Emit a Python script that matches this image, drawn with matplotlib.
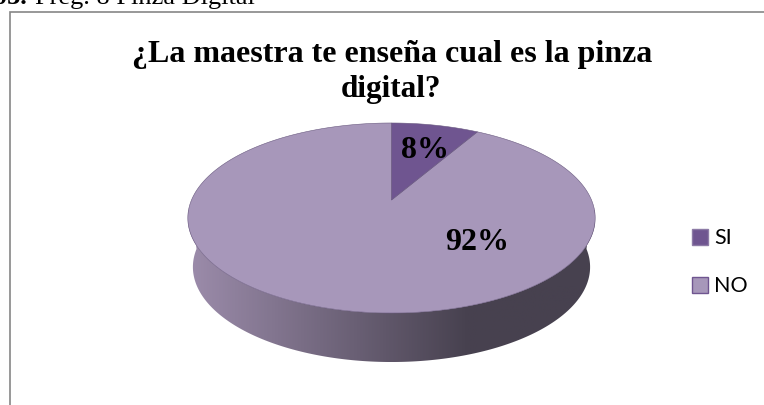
import numpy as np
from matplotlib import pyplot as plt
from matplotlib.colors import LinearSegmentedColormap
from matplotlib.patches import Patch, Polygon

categories = ['SI', 'NO']
values = [8.33, 91.67]
title_lines = ['¿La maestra te enseña cual es la pinza', 'digital?']
caption = 'Preg. 8 Pinza Digital'
caption_num = '03.'

COL_SI = '#6F5590'
COL_NO = '#A797BA'
SERIF = 'Liberation Serif'


def project(theta, x0=391.5, y0=200.0, d=200.0):
    # circle -> screen, with the perspective the 3d pie has. theta clockwise from top
    u, v = np.sin(theta), np.cos(theta)
    den = 0.1895 * v + 1
    return x0 + d * u / den, y0 - 91.6 * v / den


fig = plt.figure(figsize=(7.64, 4.05), dpi=100)
ax = fig.add_axes([0, 0, 1, 1])
ax.set_xlim(0, 764)
ax.set_ylim(405, 0)
ax.axis('off')

# chart frame, runs off the right and bottom of the crop
ax.plot([10, 10, 764], [405, 12, 12], color='#868686', lw=1.2, solid_joinstyle='miter')

# side of the disc, the gradient clipped to the band between top and bottom rims
th = np.linspace(np.pi / 2, 3 * np.pi / 2, 200)
tx, ty = project(th)
bx, by = project(th, y0=249.0, d=195.0)
band = Polygon(np.r_[np.c_[tx, ty], np.c_[bx, by][::-1]], closed=True, transform=ax.transData,
               facecolor='none', edgecolor='none')
ax.add_patch(band)
cmap = LinearSegmentedColormap.from_list('side', [(0, '#9C8CAB'), (0.69, '#47414F'), (1, '#47414F')])
im = ax.imshow(np.linspace(0, 1, 400)[None, :], cmap=cmap, extent=(188, 595, 362, 210), aspect='auto', zorder=1)
ax.set_xlim(0, 764)
ax.set_ylim(405, 0)
im.set_clip_path(band)

# top face, slices from the values
fracs = np.array(values) / sum(values)
edges = np.r_[0, np.cumsum(fracs)] * 2 * np.pi
cols = [COL_SI, COL_NO]
for i in [1, 0]:
    a = np.linspace(edges[i], edges[i + 1], 300)
    x, y = project(a)
    ax.fill(np.r_[391.5, x], np.r_[200.0, y], facecolor=cols[i], edgecolor='#6A5A80', lw=0.4, zorder=2)

# data labels
pct = [f'{round(f * 100)}%' for f in fracs]
ax.text(424.5, 158, pct[0], family=SERIF, weight='bold', fontsize=23, ha='center', va='baseline', color='black', zorder=3)
ax.text(477.5, 250, pct[1], family=SERIF, weight='bold', fontsize=23, ha='center', va='baseline', color='black', zorder=3)

# title + clipped caption above the frame
ax.text(392.5, 62, title_lines[0], family=SERIF, weight='bold', fontsize=23, ha='center', va='baseline')
ax.text(390.5, 97.5, title_lines[1], family=SERIF, weight='bold', fontsize=22.5, ha='center', va='baseline')
ax.text(35, 4, caption, family=SERIF, fontsize=19, ha='left', va='baseline')
ax.text(27, 4, caption_num, family=SERIF, weight='bold', fontsize=19, ha='right', va='baseline')

handles = [Patch(facecolor=COL_SI, edgecolor='#8D7BA6', lw=1), Patch(facecolor=COL_NO, edgecolor='#6F5590', lw=1)]
leg = ax.legend(handles, categories, loc='upper left', bbox_to_anchor=(692 / 764, 1 - 228.5 / 405), frameon=False,
                handlelength=0.74, handleheight=0.74, handletextpad=0.3, labelspacing=1.3, borderpad=0, borderaxespad=0,
                prop={'family': 'Lato', 'size': 15.5})

fig.savefig('out.png', dpi=100)
